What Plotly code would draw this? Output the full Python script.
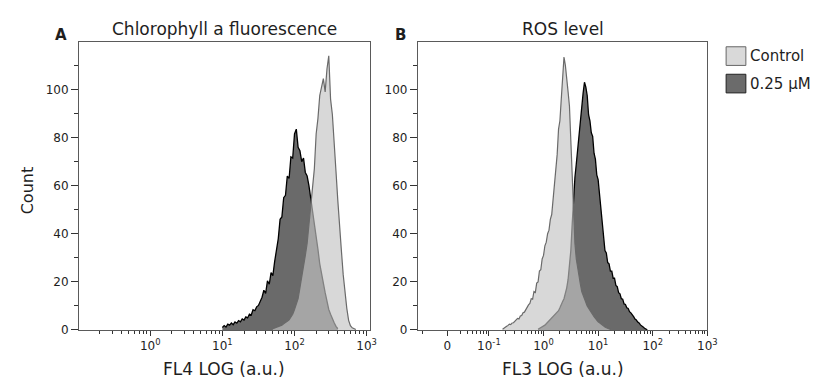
import plotly.graph_objects as go
import numpy as np

# ---------------- data (counts) ----------------
# bin positions are in log10 units of the fluorescence channel
STEP = 0.025

a_treated_start = 1.000
a_treated = [1.0, 1.8, 1.2, 2.4, 2.0, 2.9, 2.2, 3.3, 2.8, 3.9,
             3.4, 4.6, 4.1, 5.4, 5.0, 6.6, 6.2, 8.4, 8.0, 9.6,
             10.2, 12.0, 13.6, 16.5, 15.2, 20.4, 19.0, 23.8, 22.6, 28.5,
             33.0, 38.0, 46.0, 47.0, 55.0, 56.0, 64.0, 63.0, 72.0, 71.5,
             81.5, 83.5, 76.0, 74.5, 70.0, 71.5, 65.5, 64.0, 60.0, 55.0,
             50.5, 45.0, 40.5, 33.5, 27.5, 22.5, 19.5, 15.5, 11.5, 8.5,
             6.5, 4.5, 3.0, 1.5, 0.5]

a_control_start = 1.700
a_control = [0.5, 0.8, 1.0, 1.4, 1.8, 2.0, 2.6, 3.0, 3.6, 4.2,
             5.2, 6.5, 8.5, 10.5, 13.0, 17.5, 21.5, 26.5, 31.0, 36.0,
             44.0, 51.0, 60.0, 67.0, 81.5, 88.0, 97.5, 101.0, 104.5, 99.0,
             108.5, 114.0, 96.0, 89.5, 75.0, 66.0, 54.0, 45.0, 33.0, 23.0,
             15.0, 9.0, 4.0, 1.8, 0.9, 0.5, 0.2]

b_control_start = -0.750
b_control = [0.3, 0.6, 1.0, 1.5, 1.9, 2.4, 2.2, 2.9, 3.0, 3.6,
             3.8, 4.8, 4.6, 5.8, 6.0, 7.2, 7.4, 8.6, 9.2, 10.4,
             11.0, 13.0, 12.8, 16.0, 15.6, 19.5, 20.0, 24.5, 25.0, 29.5,
             31.0, 35.0, 36.5, 40.0, 41.5, 46.0, 48.0, 54.0, 59.0, 64.0,
             73.0, 83.5, 87.0, 96.0, 103.0, 113.5, 110.0, 105.5, 99.0, 93.0,
             79.0, 64.0, 46.0, 36.0, 29.5, 25.5, 22.0, 19.0, 16.0, 14.5,
             12.5, 11.5, 10.0, 9.0, 8.0, 7.0, 6.2, 5.5, 4.8, 4.0,
             3.4, 3.0, 2.5, 2.0, 1.6, 1.2, 0.9, 0.6, 0.4, 0.2, 0.0]

b_treated_start = -0.100
b_treated = [0.3, 0.6, 0.9, 1.2, 1.5, 2.0, 2.6, 3.2, 3.6, 4.0,
             4.6, 5.2, 6.0, 6.6, 7.4, 8.0, 9.2, 10.2, 11.8, 13.0,
             15.0, 17.5, 21.0, 26.5, 33.0, 44.0, 56.0, 63.5, 69.0, 75.5,
             81.0, 89.0, 92.5, 98.5, 103.0, 101.0, 97.5, 89.5, 87.0, 82.0,
             80.5, 73.5, 71.0, 64.5, 62.5, 56.0, 51.0, 42.5, 38.5, 33.0,
             32.0, 28.0, 27.5, 24.5, 24.5, 21.5, 21.5, 18.5, 18.0, 15.5,
             15.0, 13.0, 12.8, 10.8, 10.6, 9.2, 8.9, 7.6, 7.1, 6.0,
             5.5, 4.5, 4.1, 3.3, 2.9, 2.1, 1.8, 1.2, 0.7, 0.3, 0.1]

series_names = ["Control", "0.25 µM"]
panel_titles = ["Chlorophyll a fluorescence", "ROS level"]
x_titles = ["FL4 LOG (a.u.)", "FL3 LOG (a.u.)"]
panel_letters = ["A", "B"]

a_tick_vals = [0, 1, 2, 3]
a_tick_text = ["10<sup>0</sup>", "10<sup>1</sup>", "10<sup>2</sup>", "10<sup>3</sup>"]
b_tick_vals = [-1.76, -1, 0, 1, 2, 3]
b_tick_text = ["0", "10<sup>-1</sup>", "10<sup>0</sup>", "10<sup>1</sup>",
               "10<sup>2</sup>", "10<sup>3</sup>"]
y_tick_vals = [0, 20, 40, 60, 80, 100]


def bins(start, vals):
    return [round(start + STEP * i, 4) for i in range(len(vals))]


def log_minor(lo, hi):
    out = []
    for d in range(-3, 4):
        for k in range(2, 10):
            v = d + np.log10(k)
            if lo < v < hi:
                out.append(float(v))
    return out


# ---------------- styles ----------------
FONT = "DejaVu Sans"
TXT = "#1e1e1e"
CTRL_FILL = "rgba(196,196,196,0.66)"
CTRL_LINE = "#6a6a6a"
TRT_FILL = "#6a6a6a"
TRT_LINE = "#000000"
AXC = "#5a5a5a"

fig = go.Figure()

for (tx, ty, cx, cy, xa, ya) in [
    (bins(a_treated_start, a_treated), a_treated, bins(a_control_start, a_control), a_control, "x", "y"),
    (bins(b_treated_start, b_treated), b_treated, bins(b_control_start, b_control), b_control, "x2", "y2"),
]:
    fig.add_trace(go.Scatter(x=tx, y=ty, mode="lines", fill="tozeroy",
                             fillcolor=TRT_FILL, line=dict(color=TRT_LINE, width=1.3),
                             name=series_names[1], showlegend=False, xaxis=xa, yaxis=ya))
    fig.add_trace(go.Scatter(x=cx, y=cy, mode="lines", fill="tozeroy",
                             fillcolor=CTRL_FILL, line=dict(color=CTRL_LINE, width=1.2),
                             name=series_names[0], showlegend=False, xaxis=xa, yaxis=ya))

W, H = 818, 379


def px(x):
    return x / W


def py(y):
    return 1 - y / H


ydom = [py(328), py(35)]
yrange = [0, 119.6]

common_axis = dict(showline=True, linecolor=AXC, linewidth=1.2, mirror=True,
                   showgrid=False, zeroline=False, ticks="outside",
                   tickcolor="#333", tickwidth=1,
                   tickfont=dict(family=FONT, size=12, color=TXT))

fig.update_layout(
    width=W, height=H,
    margin=dict(l=0, r=0, t=0, b=0),
    paper_bgcolor="white", plot_bgcolor="white",
    showlegend=False,
    xaxis=dict(domain=[px(72), px(366)], range=[-0.986, 3.04], anchor="y",
               tickmode="array", tickvals=a_tick_vals, ticktext=a_tick_text, ticklen=5,
               minor=dict(tickmode="array", tickvals=log_minor(-0.986, 3.04),
                          ticks="outside", ticklen=3, tickcolor="#333"),
               **common_axis),
    yaxis=dict(domain=ydom, range=yrange, anchor="x",
               tickmode="array", tickvals=y_tick_vals, ticklen=7,
               minor=dict(tickmode="array", tickvals=[10, 30, 50, 70, 90, 110],
                          ticks="outside", ticklen=4, tickcolor="#333"),
               **common_axis),
    xaxis2=dict(domain=[px(415), px(708)], range=[-2.30, 3.0], anchor="y2",
                tickmode="array", tickvals=b_tick_vals, ticktext=b_tick_text, ticklen=5,
                minor=dict(tickmode="array", tickvals=[-2.21] + log_minor(-1.6, 3.0),
                           ticks="outside", ticklen=3, tickcolor="#333"),
                **common_axis),
    yaxis2=dict(domain=ydom, range=yrange, anchor="x2",
                tickmode="array", tickvals=y_tick_vals, ticklen=7,
                minor=dict(tickmode="array", tickvals=[10, 30, 50, 70, 90, 110],
                           ticks="outside", ticklen=4, tickcolor="#333"),
                **common_axis),
)

ann = []
centers = [(72 + 366) / 2, (415 + 708) / 2]
for i in range(2):
    ann.append(dict(text=panel_titles[i], x=px(centers[i]), y=py(21), xref="paper", yref="paper",
                    xanchor="center", yanchor="middle", showarrow=False,
                    font=dict(family=FONT, size=17, color=TXT)))
    ann.append(dict(text=x_titles[i], x=px(centers[i]), y=py(368), xref="paper", yref="paper",
                    xanchor="center", yanchor="middle", showarrow=False,
                    font=dict(family=FONT, size=17, color=TXT)))
ann.append(dict(text="<b>A</b>", x=px(54), y=py(27), xref="paper", yref="paper",
                xanchor="center", yanchor="middle", showarrow=False,
                font=dict(family=FONT, size=15, color=TXT)))
ann.append(dict(text="<b>B</b>", x=px(397), y=py(27), xref="paper", yref="paper",
                xanchor="center", yanchor="middle", showarrow=False,
                font=dict(family=FONT, size=15, color=TXT)))
ann.append(dict(text="Count", x=px(20), y=py(186), xref="paper", yref="paper",
                xanchor="center", yanchor="middle", showarrow=False, textangle=-90,
                font=dict(family=FONT, size=16, color=TXT)))

# legend (drawn manually to match the large swatches)
legend_rows = [(49, "#d9d9d9", "#666666"), (77, "#6b6b6b", "#222222")]
shapes = []
for (yc, fc, lc), name in zip(legend_rows, series_names):
    shapes.append(dict(type="rect", xref="paper", yref="paper",
                       x0=px(727), x1=px(747), y0=py(yc + 9.5), y1=py(yc - 9.5),
                       fillcolor=fc, line=dict(color=lc, width=1)))
    ann.append(dict(text=name, x=px(750), y=py(yc), xref="paper", yref="paper",
                    xanchor="left", yanchor="middle", showarrow=False, borderpad=0,
                    font=dict(family=FONT, size=15, color=TXT)))

fig.update_layout(annotations=ann, shapes=shapes)
fig.write_html("out.html")
